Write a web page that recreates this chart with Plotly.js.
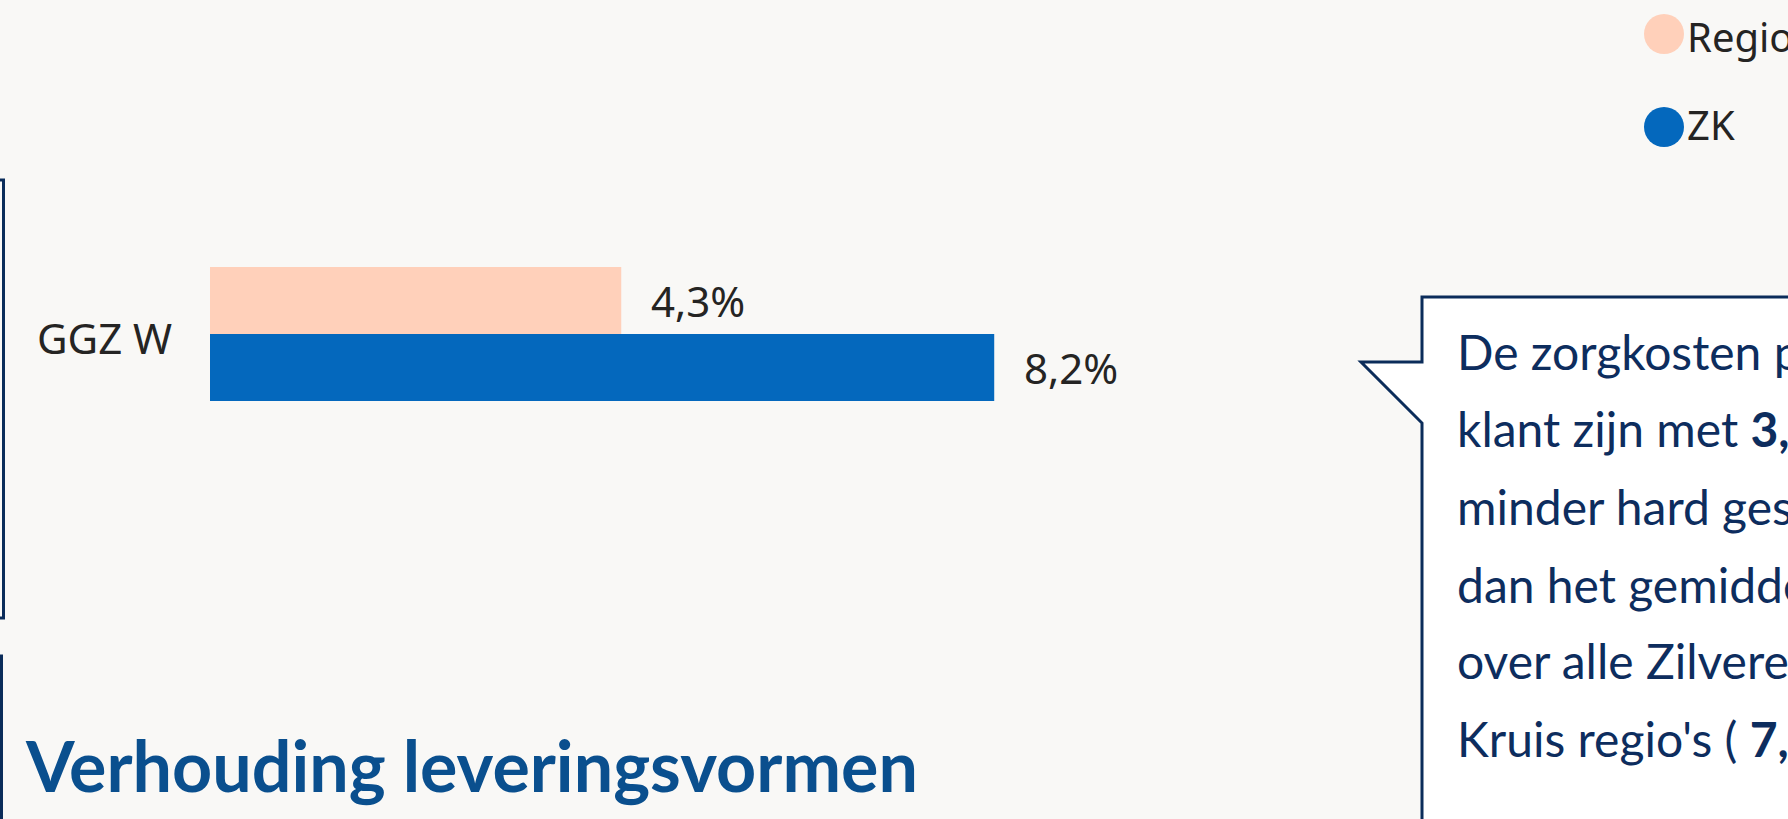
<!DOCTYPE html>
<html>
<head>
<meta charset="utf-8">
<script src="https://cdn.plot.ly/plotly-3.0.1.min.js"></script>
<style>
  html, body { margin: 0; padding: 0; background: #f9f8f6; }
  #chart { width: 1788px; height: 819px; }
</style>
</head>
<body>
<div id="chart"></div>
<script>
// ---- data ----
const categories = ['GGZ W'];
const seriesNames = ['Regio', 'ZK'];
const regioValues = [4.3];
const zkValues = [8.2];
const seriesColors = ['#FFD0BA', '#0468BD'];
const chartTitle = 'Verhouding leveringsvormen';
const calloutLines = [
  'De zorgkosten per',
  'klant zijn met <b>3,</b>',
  'minder hard gestegen',
  'dan het gemiddelde',
  'over alle Zilveren',
  "Kruis regio's ( <b>7,</b>"
];

// ---- helpers (pixel -> paper) ----
const W = 1788, H = 819;
const px = x => x / W;
const py = y => 1 - y / H;
const fmt = v => v.toFixed(1).replace('.', ',') + '%';

const labelFont = { family: 'Noto Sans, Open Sans, sans-serif', size: 42, color: '#252423' };
const navy = '#0B2C5A';

const traces = [
  { type: 'bar', orientation: 'h', name: seriesNames[1], y: categories, x: zkValues,
    marker: { color: seriesColors[1] }, hoverinfo: 'skip' },
  { type: 'bar', orientation: 'h', name: seriesNames[0], y: categories, x: regioValues,
    marker: { color: seriesColors[0] }, hoverinfo: 'skip' }
];

const annotations = [];
// category labels
categories.forEach(c => {
  annotations.push({ xref: 'paper', yref: 'y', x: px(174), y: c, xanchor: 'right', yanchor: 'middle',
    yshift: -3, text: c, showarrow: false, font: labelFont });
});
// data labels
const barPx = 67;
[[regioValues, barPx / 2], [zkValues, -barPx / 2]].forEach(([vals, shift]) => {
  vals.forEach((v, i) => {
    annotations.push({ xref: 'x', yref: 'y', x: v, y: categories[i], xanchor: 'left', yanchor: 'middle',
      xshift: 28, yshift: shift, text: fmt(v), showarrow: false, font: labelFont });
  });
});
// legend texts
const legendY = [37, 124];
seriesNames.forEach((n, i) => {
  annotations.push({ xref: 'paper', yref: 'paper', x: px(1685), y: py(legendY[i]), xanchor: 'left', yanchor: 'middle',
    text: n, showarrow: false, font: { family: 'Noto Sans, sans-serif', size: 40, color: '#252423' } });
});
// callout text
const calloutSize = 48;
const calloutBase = [370, 447, 525, 603, 679, 757];
calloutLines.forEach((t, i) => {
  annotations.push({ xref: 'paper', yref: 'paper', x: px(1455), y: py(calloutBase[i] - 0.387 * calloutSize), xanchor: 'left', yanchor: 'middle',
    text: t, showarrow: false, align: 'left', font: { family: 'Lato, sans-serif', size: calloutSize, color: '#0D2D5E' } });
});
// title
annotations.push({ xref: 'paper', yref: 'paper', x: px(23), y: py(792 - 0.387 * 70), xanchor: 'left', yanchor: 'middle',
  text: '<b>' + chartTitle + '</b>', showarrow: false, font: { family: 'Lato, sans-serif', size: 70, color: '#0A4F8E' } });

const shapes = [];
// legend circles
seriesColors.forEach((c, i) => {
  const cy = [34, 127][i], cx = 1664, r = 20;
  shapes.push({ type: 'circle', xref: 'paper', yref: 'paper', x0: px(cx - r), x1: px(cx + r), y0: py(cy + r), y1: py(cy - r),
    fillcolor: c, line: { width: 0 } });
});
// callout bubble
const pts = [[1422, 297], [1800, 297], [1800, 840], [1422, 840], [1422, 423], [1361, 362], [1422, 362]];
shapes.push({ type: 'path', xref: 'paper', yref: 'paper',
  path: 'M ' + pts.map(p => px(p[0]) + ',' + py(p[1])).join(' L ') + ' Z',
  fillcolor: '#FFFFFF', line: { color: navy, width: 3 } });
// neighbouring panel borders at left edge
shapes.push({ type: 'rect', xref: 'paper', yref: 'paper', x0: px(-50), x1: px(3.5), y0: py(618), y1: py(180),
  fillcolor: 'rgba(0,0,0,0)', line: { color: navy, width: 3 } });
shapes.push({ type: 'rect', xref: 'paper', yref: 'paper', x0: px(-50), x1: px(1.5), y0: py(900), y1: py(656),
  fillcolor: 'rgba(0,0,0,0)', line: { color: navy, width: 3 } });

const layout = {
  width: W, height: H,
  margin: { l: 0, r: 0, t: 0, b: 0, autoexpand: false },
  paper_bgcolor: '#f9f8f6', plot_bgcolor: 'rgba(0,0,0,0)',
  separators: ',.',
  barmode: 'group', bargap: 0.5, bargroupgap: 0,
  showlegend: false,
  xaxis: { domain: [px(210), 1], range: [0, 16.5], visible: false, fixedrange: true },
  yaxis: { domain: [py(468), py(200)], type: 'category', showgrid: false, zeroline: false, showline: false,
    showticklabels: false, ticks: '', fixedrange: true },
  annotations: annotations,
  shapes: shapes
};

Plotly.newPlot('chart', traces, layout, { staticPlot: true, displayModeBar: false });
</script>
</body>
</html>
